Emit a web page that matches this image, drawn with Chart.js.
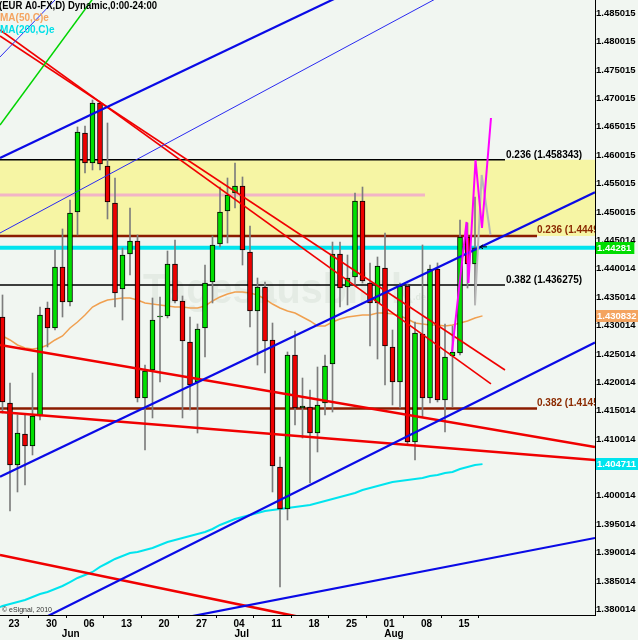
<!DOCTYPE html>
<html><head><meta charset="utf-8">
<script src="https://cdn.jsdelivr.net/npm/chart.js@4.4.1/dist/chart.umd.min.js"></script>
<style>html,body{margin:0;padding:0;background:#f1f6f1;}canvas{display:block;}</style>
</head><body>
<canvas id="c" width="638" height="640"></canvas>
<script>
// ---------- data ----------
const firstBar = -1; // bar index of first candle (Fri 20 May); Mondays at 0,5,10...
const openP = [1.43063,1.41548,1.40456,1.41002,1.40790,1.41319,1.43222,1.42869,1.43944,1.43327,1.44913,1.46305,1.45776,1.46833,1.45723,1.45072,1.43556,1.44173,1.44402,1.41636,1.42129,1.43063,1.43081,1.43997,1.43345,1.42623,1.41918,1.42869,1.43680,1.44349,1.44931,1.45248,1.45371,1.44208,1.43169,1.43592,1.42658,1.40420,1.39680,1.42394,1.41460,1.41478,1.41019,1.41548,1.42235,1.44173,1.43592,1.43768,1.45107,1.43662,1.43310,1.43926,1.42535,1.41918,1.43609,1.40861,1.42764,1.41636,1.43909,1.41601,1.42376,1.42429,1.44473,1.43997];
const highP = [1.43451,1.41900,1.41337,1.41337,1.42076,1.43239,1.43327,1.44244,1.44614,1.45124,1.46411,1.46428,1.46886,1.46851,1.46481,1.45512,1.44279,1.44983,1.44508,1.42217,1.43398,1.43416,1.44226,1.44420,1.43433,1.43063,1.42940,1.43979,1.44490,1.45353,1.45512,1.45776,1.45530,1.44666,1.43750,1.43680,1.42957,1.40597,1.42447,1.42816,1.41988,1.41777,1.42182,1.42394,1.44384,1.44384,1.44155,1.45248,1.45353,1.44015,1.44120,1.44543,1.42834,1.43662,1.43645,1.42975,1.44332,1.43979,1.44015,1.42940,1.42905,1.44772,1.44719,1.45177];
const lowP = [1.41372,1.39645,1.39980,1.40103,1.40632,1.41248,1.42535,1.42834,1.43063,1.43257,1.44508,1.45600,1.45653,1.45653,1.44790,1.43239,1.43010,1.43803,1.41566,1.40720,1.41284,1.41918,1.43046,1.43310,1.41284,1.41425,1.41019,1.42358,1.43310,1.44296,1.44367,1.44983,1.43979,1.42887,1.42217,1.42076,1.39980,1.38306,1.39487,1.41160,1.40931,1.40139,1.40685,1.41337,1.41389,1.43239,1.43275,1.43627,1.43662,1.42552,1.42323,1.41865,1.41513,1.41460,1.40826,1.40544,1.41301,1.41548,1.41566,1.41037,1.41478,1.42394,1.43574,1.43275];
const closeP = [1.41566,1.40456,1.41019,1.40790,1.41319,1.43098,1.42869,1.43944,1.43327,1.44895,1.46322,1.45776,1.46833,1.45759,1.45089,1.43486,1.44155,1.44402,1.41636,1.42112,1.43010,1.43081,1.43997,1.43345,1.42640,1.41865,1.42852,1.43662,1.44332,1.44913,1.45212,1.45371,1.44244,1.43169,1.43592,1.42640,1.40438,1.39680,1.42394,1.41460,1.41495,1.41019,1.41513,1.42200,1.44173,1.43574,1.43750,1.45107,1.43697,1.43310,1.43962,1.42552,1.41918,1.43609,1.40861,1.42781,1.41636,1.43909,1.41601,1.42358,1.42447,1.44473,1.43997,1.44281];

const maFirst = -2;
const ma50 = [1.42816,1.42728,1.42658,1.42570,1.42517,1.42499,1.42517,1.42570,1.42658,1.42728,1.42869,1.42975,1.43098,1.43239,1.43310,1.43363,1.43380,1.43398,1.43398,1.43363,1.43310,1.43292,1.43275,1.43257,1.43239,1.43239,1.43222,1.43222,1.43257,1.43345,1.43416,1.43468,1.43504,1.43504,1.43486,1.43451,1.43380,1.43292,1.43222,1.43169,1.43134,1.43063,1.42993,1.42905,1.42905,1.42975,1.43028,1.43063,1.43081,1.43098,1.43098,1.43134,1.43134,1.43116,1.43081,1.43028,1.42957,1.42940,1.42922,1.42922,1.42905,1.42922,1.42957,1.42993,1.43046,1.43083];
const ma200 = [1.37919,1.37972,1.38007,1.38042,1.38077,1.38130,1.38183,1.38218,1.38271,1.38324,1.38394,1.38465,1.38518,1.38571,1.38659,1.38729,1.38800,1.38852,1.38905,1.38923,1.38958,1.38993,1.39046,1.39099,1.39134,1.39170,1.39205,1.39240,1.39275,1.39328,1.39399,1.39451,1.39504,1.39540,1.39575,1.39610,1.39645,1.39663,1.39680,1.39698,1.39716,1.39733,1.39751,1.39786,1.39821,1.39857,1.39892,1.39927,1.39962,1.40015,1.40050,1.40086,1.40121,1.40156,1.40174,1.40191,1.40209,1.40227,1.40262,1.40279,1.40315,1.40332,1.40385,1.40420,1.40456,1.40471];

const weekTickIdx = [0,5,10,15,20,25,30,35,40,45,50,55,60];
const weekTickLabels = ['23','30','06','13','20','27','04','11','18','25','01','08','15'];
const monthTickIdx = [8.1,30.9,51.2];
const monthTickLabels = ['Jun','Jul','Aug'];
const yTickLabels = ['1.380014','1.385014','1.390014','1.395014','1.400014','1.405014','1.410014','1.415014','1.420014','1.425014','1.430014','1.435014','1.440014','1.445014','1.450015','1.455015','1.460015','1.465015','1.470015','1.475015','1.480015','1.485015'];
const yTickValues = yTickLabels.map(Number);

const lastPrice = 1.44281, ma50Last = 1.430832, ma200Last = 1.404711;
const bandTop = 1.458343, bandBottom = 1.4449;
const pinkLevel = 1.45213, pinkEnd = 55.33;
const fibBlack = [1.458343, 1.436275], fibBlackText = ['0.236 (1.458343)','0.382 (1.436275)'], fibBlackEnd = 66;
const fibBrown = [1.4449, 1.4145], fibBrownText = ['0.236 (1.444900)','0.382 (1.414500)'], fibBrownEnd = 70.27;

// trend lines [x1, y1, x2, y2] in bar index / price
const blueLines = [[-1.333,1.45864,52,1.49219],[-1.333,1.40250,78,1.45260],[-1.333,1.37373,78,1.42614],[18.67,1.37649,78,1.39170]];
const thinBlueLines = [[-1.333,1.44543,58.67,1.48805],[-1.333,1.47644,6.67,1.48740]];
const greenLines = [[-1.333,1.46446,12,1.48842]];
const redThinLines = [[-1.333,1.48014,66,1.42129],[-1.333,1.48119,64.13,1.41883]];
const redThickLines = [[-1.333,1.42570,78,1.40773],[-1.333,1.41389,78,1.40544],[-1.333,1.38870,41.33,1.37704]];
const magentaX = [58.93,60.87,61.13,62.07,62.93,64.13], magentaY = [1.42447,1.44737,1.43662,1.45829,1.44631,1.46569];
const greyX = [62,62.89,64.07], greyY = [1.43275,1.45565,1.44508];

const xMin = -4/3, xMax = 78, yMin = 1.378128, yMax = 1.486479;

// ---------- build ----------
const FONT = '"Liberation Sans", Arial, sans-serif';
const BG = '#f1f6f1';
const UP = '#00e000', DOWN = '#ee0000';

const seg = a => [{x:a[0],y:a[1]},{x:a[2],y:a[3]}];
const hline = (v, x2) => [{x:xMin,y:v},{x:x2,y:v}];
const lineDs = (data, color, width, order) => ({type:'line', data, borderColor:color, borderWidth:width, pointRadius:0, fill:false, tension:0, order});

const wickData = lowP.map((l,i)=>({x:firstBar+i, y:[l, highP[i]]}));
const bodyData = openP.map((o,i)=>({x:firstBar+i, y:[o, closeP[i]]}));
const bodyColors = openP.map((o,i)=> closeP[i] >= o ? UP : DOWN);
const ma50Data = ma50.map((v,i)=>({x:maFirst+i, y:v}));
const ma200Data = ma200.map((v,i)=>({x:maFirst+i, y:v}));

const datasets = [];
datasets.push({type:'line', data:hline(bandTop, xMax), borderWidth:0, borderColor:'rgba(0,0,0,0)', pointRadius:0, fill:{value:bandBottom}, backgroundColor:'#f6f5a4', order:100});
datasets.push(lineDs(hline(pinkLevel, pinkEnd), '#f2b4c6', 3, 95));
fibBlack.forEach(v=>datasets.push(lineDs(hline(v, fibBlackEnd), '#000000', 1.5, 90)));
fibBrown.forEach(v=>datasets.push(lineDs(hline(v, fibBrownEnd), '#8b1c00', 2.5, 90)));
datasets.push(lineDs(hline(lastPrice, xMax), '#00e4ee', 4, 85));
datasets.push(lineDs(ma50Data, '#f0a050', 1.5, 80));
datasets.push(lineDs(ma200Data, '#00e4ee', 2, 80));
datasets.push({type:'bar', data:wickData, backgroundColor:'#7d7d7d', barThickness:1, grouped:false, order:60});
datasets.push({type:'bar', data:bodyData, backgroundColor:bodyColors, borderColor:'#000', borderWidth:1, borderSkipped:false, barThickness:5, grouped:false, order:50});
blueLines.forEach(a=>datasets.push(lineDs(seg(a), '#0a0ae6', 2.2, 40)));
thinBlueLines.forEach(a=>datasets.push(lineDs(seg(a), '#2a2af0', 1, 40)));
greenLines.forEach(a=>datasets.push(lineDs(seg(a), '#00d400', 1.5, 40)));
redThinLines.forEach(a=>datasets.push(lineDs(seg(a), '#f00000', 1.6, 40)));
redThickLines.forEach(a=>datasets.push(lineDs(seg(a), '#f00000', 2.6, 40)));
datasets.push(lineDs(greyX.map((x,i)=>({x, y:greyY[i]})), '#b8b8b8', 2, 31));
datasets.push(lineDs(magentaX.map((x,i)=>({x, y:magentaY[i]})), '#ff00ff', 2, 30));

const deco = {
  id:'deco',
  beforeDraw(chart){
    const c = chart.ctx; c.save(); c.fillStyle = BG; c.fillRect(0,0,chart.width,chart.height); c.restore();
  },
  beforeDatasetsDraw(chart){
    const c = chart.ctx; c.save();
    c.fillStyle = 'rgba(160,178,160,0.16)';
    c.font = 'bold 43px ' + FONT;
    const t = 'Tagesausblick';
    const w = c.measureText(t).width;
    c.translate(143, 303); c.scale(270/w, 1); c.fillText(t, 0, 0);
    c.restore(); c.save();
    c.fillStyle = 'rgba(160,178,160,0.22)';
    c.font = 'bold 9px ' + FONT; c.fillText('.de', 413, 300);
    c.restore();
  },
  afterDatasetsDraw(chart){
    const c = chart.ctx, a = chart.chartArea, xs = chart.scales.x, ys = chart.scales.y;
    c.save();
    c.beginPath(); c.rect(a.left, a.top, a.right - a.left, a.bottom - a.top); c.clip();
    c.font = 'bold 10px ' + FONT; c.textBaseline = 'alphabetic'; c.textAlign = 'left';
    fibBlack.forEach((v,i)=>{ c.fillStyle = '#000'; c.fillText(fibBlackText[i], xs.getPixelForValue(fibBlackEnd)+1, ys.getPixelForValue(v)-2); });
    fibBrown.forEach((v,i)=>{ c.fillStyle = '#8b2a00'; c.fillText(fibBrownText[i], xs.getPixelForValue(fibBrownEnd)+0, ys.getPixelForValue(v)-3); });
    // small arrow pointing to last price
    const ax = xs.getPixelForValue(firstBar + closeP.length - 1) + 5, ay = ys.getPixelForValue(lastPrice) - 1;
    c.strokeStyle = '#000'; c.lineWidth = 1;
    c.beginPath(); c.moveTo(ax+7, ay); c.lineTo(ax, ay); c.moveTo(ax+3, ay-2); c.lineTo(ax, ay); c.lineTo(ax+3, ay+2); c.stroke();
    c.restore();
  },
  afterDraw(chart){
    const c = chart.ctx, ys = chart.scales.y, a = chart.chartArea;
    c.save();
    c.font = 'bold 9.5px ' + FONT; c.textBaseline = 'middle'; c.textAlign = 'left';
    [[lastPrice,'1.44281','#00dc00'],[ma50Last,'1.430832','#f4a460'],[ma200Last,'1.404711','#00e4ee']].forEach(([v,t,col])=>{
      const y = ys.getPixelForValue(v);
      const w = c.measureText(t).width;
      c.fillStyle = col; c.fillRect(a.right+1, Math.round(y)-6, Math.min(w+4, chart.width-a.right-1), 12);
      c.fillStyle = '#ffffff'; c.fillText(t, a.right+2, y+0.5);
    });
    // legend
    c.font = 'bold 10px ' + FONT;
    const title = '(EUR A0-FX,D) Dynamic,0:00-24:00';
    c.fillStyle = '#000';
    const tw = c.measureText(title).width;
    c.save(); c.translate(-1, 6); c.scale(158/tw, 1); c.fillText(title, 0, 0); c.restore();
    c.fillStyle = '#f4a460'; c.fillText('MA(50,C)e', 0, 18);
    c.fillStyle = '#00dfe8'; c.fillText('MA(200,C)e', 0, 30);
    c.fillStyle = '#333'; c.font = '7px ' + FONT; c.textBaseline = 'alphabetic';
    c.fillText('\u00A9 eSignal, 2010', 2, 612);
    c.restore();
  }
};

const tickFont = {family: FONT, size: 10, weight: 'bold'};
const yTickFont = {family: FONT, size: 9.5, weight: 'bold'};
new Chart(document.getElementById('c'), {
  type: 'bar',
  data: { datasets },
  options: {
    responsive: false, animation: false, devicePixelRatio: 1,
    layout: {padding: 0},
    plugins: {legend: {display: false}, tooltip: {enabled: false}},
    scales: {
      x: {
        type: 'linear', position: 'bottom', min: xMin, max: xMax, bounds: 'data', offset: false, weight: 0,
        grid: {drawOnChartArea: false, drawTicks: true, tickLength: 3, color: '#000', tickColor: '#000'},
        border: {display: true, color: '#000', width: 1},
        afterBuildTicks: s => { s.ticks = weekTickIdx.map(v => ({value: v})); },
        afterFit: s => { s.height = 12; s.paddingLeft = 0; s.paddingRight = 0; },
        ticks: {autoSkip: false, maxRotation: 0, padding: 0, labelOffset: 4, color: '#000', font: tickFont, callback: (v, i) => weekTickLabels[i]}
      },
      xm: {
        type: 'linear', position: 'bottom', min: xMin, max: xMax, bounds: 'data', offset: false, weight: 1,
        grid: {display: false, drawTicks: false},
        border: {display: false},
        afterBuildTicks: s => { s.ticks = monthTickIdx.map(v => ({value: v})); },
        afterFit: s => { s.height = 13; s.paddingLeft = 0; s.paddingRight = 0; },
        ticks: {autoSkip: false, maxRotation: 0, padding: 1, color: '#000', font: tickFont, callback: (v, i) => monthTickLabels[i]}
      },
      y: {
        type: 'linear', position: 'right', min: yMin, max: yMax, bounds: 'data',
        grid: {display: false, drawTicks: false},
        border: {display: true, color: '#000', width: 1},
        afterBuildTicks: s => { s.ticks = yTickValues.map(v => ({value: v})); },
        afterFit: s => { s.width = 43; s.paddingTop = 0; s.paddingBottom = 0; },
        ticks: {autoSkip: false, padding: 1, labelOffset: 5, color: '#000', font: yTickFont, callback: (v, i) => yTickLabels[i]}
      }
    }
  },
  plugins: [deco]
});
</script>
</body></html>
